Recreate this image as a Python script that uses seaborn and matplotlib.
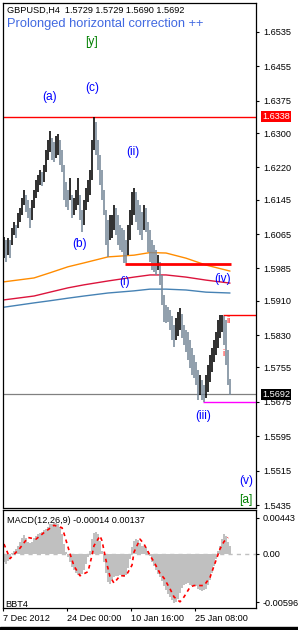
import numpy as np
import pandas as pd
import matplotlib
matplotlib.use("Agg")
import matplotlib.pyplot as plt
import matplotlib.transforms as mtransforms
from matplotlib.patches import Rectangle
import seaborn as sns

# ---------------- data ----------------
header = "GBPUSD,H4  1.5729 1.5729 1.5690 1.5692"
subtitle = "Prolonged horizontal correction ++"

high = [1.6058, 1.6051, 1.6056, 1.6051, 1.6079, 1.6093, 1.6086, 1.6114, 1.6126, 1.6149,
        1.6168, 1.6156, 1.6144, 1.6126, 1.6144, 1.6168, 1.6191, 1.6202, 1.6214, 1.6209,
        1.6226, 1.6261, 1.6284, 1.6305, 1.6289, 1.6279, 1.6293, 1.6298, 1.6284, 1.6261,
        1.6226, 1.6186, 1.6168, 1.6195, 1.6156, 1.6149, 1.6168, 1.6195, 1.6156, 1.6121,
        1.6144, 1.6172, 1.6191, 1.6214, 1.6284, 1.6338, 1.6326, 1.6284, 1.6249, 1.6214,
        1.6168, 1.6121, 1.6098, 1.6109, 1.6109, 1.6133, 1.6126, 1.6109, 1.6086, 1.6079,
        1.6075, 1.6051, 1.6086, 1.6121, 1.6163, 1.6172, 1.6163, 1.6144, 1.6133, 1.6116,
        1.6133, 1.6126, 1.6093, 1.6075, 1.6051, 1.6040, 1.6028, 1.6016, 1.6000, 1.5970,
        1.5923, 1.5900, 1.5895, 1.5889, 1.5875, 1.5854, 1.5870, 1.5884, 1.5893, 1.5879,
        1.5854, 1.5842, 1.5837, 1.5819, 1.5800, 1.5784, 1.5768, 1.5749, 1.5737, 1.5726,
        1.5714, 1.5737, 1.5761, 1.5784, 1.5800, 1.5819, 1.5837, 1.5865, 1.5877, 1.5877,
        1.5875, 1.5865, 1.5795, 1.5729]
low = [1.6009, 1.6000, 1.6016, 1.6009, 1.6040, 1.6063, 1.6056, 1.6079, 1.6093, 1.6109,
       1.6133, 1.6116, 1.6102, 1.6079, 1.6098, 1.6126, 1.6149, 1.6163, 1.6179, 1.6177,
       1.6186, 1.6209, 1.6237, 1.6256, 1.6237, 1.6233, 1.6242, 1.6249, 1.6226, 1.6209,
       1.6144, 1.6128, 1.6121, 1.6144, 1.6102, 1.6109, 1.6121, 1.6133, 1.6098, 1.6070,
       1.6086, 1.6121, 1.6140, 1.6156, 1.6191, 1.6261, 1.6249, 1.6214, 1.6179, 1.6144,
       1.6109, 1.6040, 1.6012, 1.6051, 1.6056, 1.6075, 1.6063, 1.6040, 1.6028, 1.6023,
       1.5998, 1.5998, 1.6016, 1.6051, 1.6086, 1.6109, 1.6093, 1.6075, 1.6063, 1.6051,
       1.6075, 1.6070, 1.6023, 1.6000, 1.5982, 1.5977, 1.5970, 1.5982, 1.5947, 1.5900,
       1.5861, 1.5858, 1.5861, 1.5842, 1.5819, 1.5802, 1.5819, 1.5828, 1.5842, 1.5823,
       1.5807, 1.5791, 1.5772, 1.5754, 1.5737, 1.5730, 1.5714, 1.5679, 1.5691, 1.5679,
       1.5675, 1.5684, 1.5698, 1.5721, 1.5744, 1.5768, 1.5784, 1.5800, 1.5823, 1.5837,
       1.5807, 1.5761, 1.5714, 1.5690]

ma_idx = [0, 15, 23, 32, 40, 52, 65, 73, 81, 91, 101, 113]
ma_orange = [1.5954, 1.5963, 1.5975, 1.5989, 1.5998, 1.6012, 1.6016, 1.6022, 1.6021, 1.6009, 1.5993, 1.5979]
ma_crimson = [1.5912, 1.5921, 1.5930, 1.5940, 1.5947, 1.5956, 1.5965, 1.5970, 1.5970, 1.5965, 1.5958, 1.5951]
ma_blue = [1.5895, 1.5905, 1.5910, 1.5916, 1.5921, 1.5928, 1.5933, 1.5937, 1.5937, 1.5935, 1.5930, 1.5928]

macd_hist = [-0.0010, -0.0012, -0.0009, -0.0004, 0.0001, 0.0003, 0.0006, 0.0009, 0.0014, 0.0020,
             0.0023, 0.0020, 0.0015, 0.0013, 0.0015, 0.0019, 0.0022, 0.0024, 0.0026, 0.0027,
             0.0029, 0.0031, 0.0033, 0.0036, 0.0037, 0.0038, 0.0038, 0.0037, 0.0033, 0.0024,
             0.0012, 0.0002, -0.0004, -0.0010, -0.0016, -0.0020, -0.0024, -0.0026, -0.0027, -0.0025,
             -0.0020, -0.0012, -0.0004, 0.0004, 0.0018, 0.0026, 0.0027, 0.0024, 0.0016, 0.0004,
             -0.0010, -0.0024, -0.0035, -0.0037, -0.0032, -0.0028, -0.0027, -0.0027, -0.0026, -0.0027,
             -0.0028, -0.0026, -0.0018, -0.0006, 0.0008, 0.0016, 0.0018, 0.0017, 0.0013, 0.0010,
             0.0009, 0.0008, 0.0004, -0.0003, -0.0010, -0.0015, -0.0020, -0.0025, -0.0028, -0.0033,
             -0.0040, -0.0045, -0.0049, -0.0053, -0.0057, -0.0060, -0.0059, -0.0055, -0.0048, -0.0042,
             -0.0038, -0.0037, -0.0036, -0.0038, -0.0039, -0.0038, -0.0040, -0.0043, -0.0045, -0.0046,
             -0.0045, -0.0043, -0.0038, -0.0032, -0.0024, -0.0015, -0.0006, 0.0003, 0.0010, 0.0018,
             0.0024, 0.0022, 0.0014, 0.0010]

sig_idx = [0, 3, 8, 12, 16, 20, 25, 29, 30, 33, 35, 38, 42, 44, 45, 48, 49, 51, 53, 55, 58, 61,
           64, 65, 68, 70, 73, 75, 78, 80, 83, 85, 88, 90, 93, 95, 98, 100, 103, 105, 108, 110, 112]
sig_val = [0.0012, -0.0006, 0.0007, 0.0020, 0.0018, 0.0026, 0.0035, 0.0032, 0.0025, 0.0000,
           -0.0015, -0.0027, -0.0022, -0.0002, 0.0010, 0.0022, 0.0016, -0.0008, -0.0028, -0.0036,
           -0.0027, -0.0027, -0.0014, 0.0002, 0.0018, 0.0012, -0.0002, -0.0010, -0.0024, -0.0030,
           -0.0043, -0.0053, -0.0059, -0.0053, -0.0041, -0.0039, -0.0039, -0.0039, -0.0029, -0.0015,
           0.0006, 0.0015, 0.0020]

price_ticks = [1.6535, 1.6455, 1.6375, 1.6300, 1.6220, 1.6145, 1.6065, 1.5985, 1.5910,
               1.5830, 1.5755, 1.5675, 1.5595, 1.5515, 1.5435]
macd_ticks = [0.00443, 0.0, -0.00596]
macd_tick_labels = ["0.00443", "0.00", "-0.00596"]
date_idx = [-0.5, 31.5, 63.5, 95.5]
date_labels = ["7 Dec 2012", "24 Dec 00:00", "10 Jan 16:00", "25 Jan 08:00"]

level_top = 1.6338
level_current = 1.5692
level_box = 1.5995
box_start = 60.5
box_end = 113.5
level_ii = 1.5877
ii_start = 109.5
level_low = 1.5675
low_start = 99.5

wave_text = ["(a)", "(c)", "[y]", "(ii)", "(b)", "(i)", "(iv)", "(iii)", "(v)", "[a]"]
wave_idx = [23, 44.3, 44, 64.5, 38, 60.5, 109.5, 99.5, 121, 121]
wave_price = [1.6384, 1.6405, 1.6512, 1.6256, 1.6042, 1.5954, 1.5961, 1.5642, 1.5491, 1.5447]
small_text = ["ii", "i"]
small_idx = [112.5, 109.5]
small_price = [1.5865, 1.5788]

macd_label = "MACD(12,26,9) -0.00014 0.00137"
macd_name = "BBT4"

# ---------------- style ----------------
sns.set_theme(style="white")
plt.rcParams['font.family'] = ['Liberation Sans', 'DejaVu Sans']

W, H = 298, 630
fig = plt.figure(figsize=(W / 100, H / 100), dpi=100)
fig.patch.set_facecolor("white")


def rect(l, t, r, b):
    return [l / W, 1 - b / H, (r - l) / W, (b - t) / H]


ax = fig.add_axes(rect(3, 3, 256, 507.5))
ax2 = fig.add_axes(rect(3, 509.5, 256, 608))

XMIN, XMAX = -0.5, 126.0
TS = 6.6

# ---------------- main panel ----------------
idx = np.arange(len(high))
hi = np.array(high)
lo = np.array(low)
mid = (hi + lo) / 2
up = np.r_[True, np.diff(mid) >= 0]
bar_colors = np.where(up, "black", "#778899")

ax.axhline(level_top, color="red", lw=1.0, zorder=1)
ax.axhline(level_current, color="#808080", lw=0.9, zorder=1)
ax.hlines(level_low, low_start, XMAX, color="#FF00FF", lw=1.0, zorder=1)
ax.hlines(level_ii, ii_start, XMAX, color="red", lw=1.0, zorder=1)

ma_df = pd.DataFrame({"idx": ma_idx, "orange": ma_orange, "crimson": ma_crimson, "blue": ma_blue})
sns.lineplot(data=ma_df, x="idx", y="orange", color="#FF8C00", lw=1.0, ax=ax, zorder=2)
sns.lineplot(data=ma_df, x="idx", y="crimson", color="#DC143C", lw=1.0, ax=ax, zorder=2)
sns.lineplot(data=ma_df, x="idx", y="blue", color="#4682B4", lw=1.0, ax=ax, zorder=2)

ax.vlines(idx, lo, hi, colors=bar_colors, lw=1.15, zorder=3)
ax.hlines(level_box, box_start, box_end, color="red", lw=2.0, zorder=4)

for t, xi, yp in zip(wave_text, wave_idx, wave_price):
    col = "#008000" if t.startswith("[") else "#0000FF"
    ax.text(xi, yp, t, color=col, fontsize=8.6, ha="center", va="center", zorder=5)
for t, xi, yp in zip(small_text, small_idx, small_price):
    ax.text(xi, yp, t, color="red", fontsize=6.5, ha="center", va="center", zorder=5)

ax.set_xlim(XMIN, XMAX)
ax.set_ylim(1.54292, 1.66024)
ax.set_xlabel("")
ax.set_ylabel("")
ax.set_xticks([])
ax.yaxis.tick_right()
ax.set_yticks(price_ticks)
ax.set_yticklabels([f"{v:.4f}" for v in price_ticks])
ax.tick_params(axis="y", right=True, left=False, labelright=True, labelleft=False,
               length=2.5, width=0.8, pad=2.5, labelsize=TS, colors="black", direction="out")

tr = mtransforms.blended_transform_factory(ax.transAxes, ax.transData)
ax.text(1.024, level_top, f"{level_top:.4f}", transform=tr, color="white", fontsize=TS,
        ha="left", va="center", bbox=dict(boxstyle="square,pad=0.12", fc="red", ec="none"), zorder=6,
        clip_on=False)
ax.text(1.024, level_current, f"{level_current:.4f}", transform=tr, color="white", fontsize=TS,
        ha="left", va="center", bbox=dict(boxstyle="square,pad=0.12", fc="black", ec="none"), zorder=6,
        clip_on=False)

for s in ax.spines.values():
    s.set_color("black")
    s.set_linewidth(0.9)
    s.set_visible(True)

# ---------------- MACD panel ----------------
ax2.axhline(0, color="#C0C0C0", lw=1.0, ls=(0, (3, 3)), zorder=0)
macd_df = pd.DataFrame({"idx": idx, "hist": macd_hist})
sns.barplot(data=macd_df, x="idx", y="hist", native_scale=True, width=1.0, color="#C0C0C0",
            saturation=1, linewidth=0, errorbar=None, ax=ax2, zorder=1)
sig_df = pd.DataFrame({"idx": sig_idx, "sig": sig_val})
sns.lineplot(data=sig_df, x="idx", y="sig", color="red", lw=1.2, ax=ax2, zorder=2)
ax2.lines[-1].set_linestyle((0, (2.2, 2.2)))

ax2.set_xlim(XMIN, XMAX)
ax2.set_ylim(-0.00666, 0.00544)
ax2.set_xlabel("")
ax2.set_ylabel("")
ax2.yaxis.tick_right()
ax2.set_yticks(macd_ticks)
ax2.set_yticklabels(macd_tick_labels)
ax2.tick_params(axis="y", right=True, left=False, labelright=True, labelleft=False,
                length=2.5, width=0.8, pad=2.5, labelsize=TS, colors="black", direction="out")
ax2.set_xticks(date_idx)
ax2.set_xticklabels(date_labels, ha="left")
ax2.tick_params(axis="x", bottom=True, length=2.5, width=0.8, pad=2.0, labelsize=TS,
                colors="black", direction="out")
for s in ax2.spines.values():
    s.set_color("black")
    s.set_linewidth(0.9)
    s.set_visible(True)

ax2.text(0.016, 0.89, macd_label, transform=ax2.transAxes, fontsize=TS, color="black",
         ha="left", va="center")
ax2.text(0.008, 0.04, macd_name, transform=ax2.transAxes, fontsize=TS, color="black",
         ha="left", va="center")

# ---------------- header texts ----------------
fig.text(7 / W, 1 - 10 / H, header, fontsize=TS, color="black", ha="left", va="center")
fig.text(7 / W, 1 - 24.5 / H, subtitle, fontsize=9.3, color="#4169E1", ha="left", va="center")

fig.add_artist(Rectangle((0, 0), 1, 3 / H, transform=fig.transFigure, color="black", zorder=10))

fig.savefig("out.png", dpi=100, facecolor="white")
